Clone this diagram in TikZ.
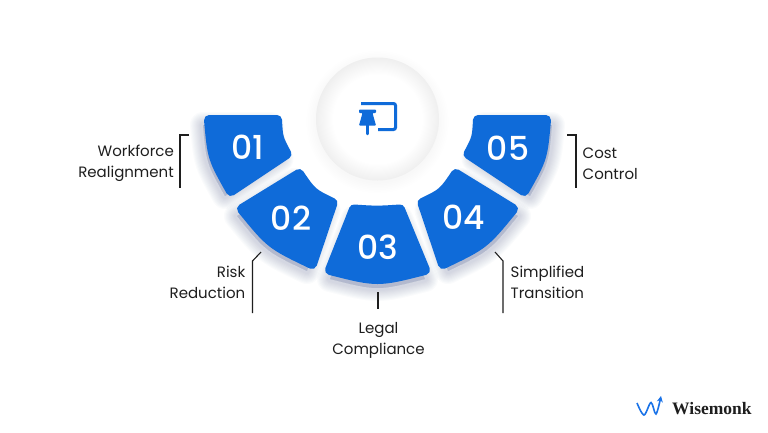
\documentclass[tikz,border=0pt]{standalone}
\usepackage{fontspec}
\setmainfont{Poppins}
\newfontfamily\numfont{Poppins Medium}
\newfontfamily\brandfont{Liberation Serif}
\usetikzlibrary{arrows.meta}
\definecolor{segblue}{HTML}{0F6BD9}
\definecolor{logoblue}{HTML}{1A73E8}
\definecolor{inkgray}{HTML}{1E1E1E}
\definecolor{shadeblue}{HTML}{4A5A90}
\definecolor{rimgray}{HTML}{EFEFEF}
\pgfdeclareradialshading{pinball}{\pgfpoint{0bp}{0bp}}{color(0bp)=(white); color(18bp)=(white); color(25bp)=(rimgray); color(50bp)=(rimgray)}
\tikzset{
  numtext/.style={white,font=\numfont\fontsize{33}{33}\selectfont},
  labeltext/.style={inkgray,font=\fontsize{15}{21}\selectfont,inner sep=0pt},
  leader/.style={draw=inkgray,line width=1.1pt},
  segment/.style={draw=segblue,fill=segblue,line width=10pt,line join=round},
}
\newcommand{\segshape}[3]{
  \foreach \i in {1,...,10}
    \path[draw=shadeblue,fill=shadeblue,opacity=0.022,line width=4pt+\i*2.2pt,line join=round,shift={(#2,#3)}] #1;
  \path[segment] #1;
}
\begin{document}
\begin{tikzpicture}[x=1pt,y=-1pt]
\useasboundingbox (0,0) rectangle (768,432);
\fill[white] (0,0) rectangle (768,432);

\foreach \i in {1,...,7}
  \fill[black,opacity=0.005] (377.5,122) circle ({60+\i*1.6});
\shade[shading=pinball] (377.5,119) circle (61.5);

\segshape{(209,120) -- (277,120) .. controls (278,138) .. (286.5,154) -- (231,191) .. controls (212.4,158) .. (209,120) -- cycle}{-6}{5}
\segshape{(299,174) .. controls (311.9,193) .. (332.5,203) -- (312,264) .. controls (270.8,244.3) .. (242,209) -- cycle}{-5}{7}
\segshape{(354,209.5) .. controls (377,211) .. (400,209.5) -- (425,270) .. controls (377.5,282) .. (330,270) -- cycle}{0}{9}
\segshape{(456,174) .. controls (443.1,193) .. (422.5,203) -- (443,264) .. controls (484.2,244.3) .. (513,209) -- cycle}{5}{7}
\segshape{(546,120) -- (478,120) .. controls (477,138) .. (468.5,154) -- (524,191) .. controls (542.6,158) .. (546,120) -- cycle}{6}{5}

\node[numtext] (num01) at (247.5,147) {01};
\node[numtext] (num02) at (291,218) {02};
\node[numtext] (num03) at (377.5,247) {03};
\node[numtext] (num04) at (463.5,217) {04};
\node[numtext] (num05) at (508,148) {05};

\node[labeltext,anchor=east,align=right] (workforce) at (174,163.5) {Workforce\\Realignment};
\node[labeltext,anchor=east,align=right] (risk) at (245.5,282.5) {Risk\\Reduction};
\node[labeltext,align=center] (legal) at (378.5,340.5) {Legal\\Compliance};
\node[labeltext,anchor=west,align=left] (simplified) at (510.5,282.5) {Simplified\\Transition};
\node[labeltext,anchor=west,align=left] (cost) at (582.5,163.5) {Cost\\Control};

\coordinate (tip01) at (189,135);
\coordinate (end01) at (180,188);
\coordinate (tip02) at (261,252);
\coordinate (end02) at (252.5,313);
\coordinate (tip03) at (378,292);
\coordinate (end03) at (378,309);
\coordinate (tip04) at (495,252);
\coordinate (end04) at (503,313);
\coordinate (tip05) at (567,135);
\coordinate (end05) at (576,188);
\draw[leader] (tip01) -| (end01);
\draw[leader] (tip02) -- (252.5,261) -- (end02);
\draw[leader] (tip03) -- (end03);
\draw[leader] (tip04) -- (503,261) -- (end04);
\draw[leader] (tip05) -| (end05);

% pin icon
\draw[segblue,line width=3pt,rounded corners=2pt] (361,103.5) -- (395.5,103.5) -- (395.5,129.5) -- (378,129.5);
\fill[segblue,rounded corners=0.8pt] (359,109.5) -- (376,109.5) -- (376,113) -- (372.5,113) -- (376,125.5) -- (359,125.5) -- (362.5,113) -- (359,113) -- cycle;
\draw[segblue,line width=2.4pt,line cap=round] (367.5,125) -- (367.5,134);

% brand
\draw[logoblue,line width=1.6pt,-{Stealth[length=6pt,width=6pt]}] plot[smooth,tension=0.55] coordinates {(637,403) (644,415) (651,402.5) (656,414) (661,396)};
\node[inkgray,anchor=west,inner sep=0pt,font=\brandfont\bfseries\fontsize{17.5}{17.5}\selectfont] (wisemonk) at (672,409) {Wisemonk};
\end{tikzpicture}
\end{document}
